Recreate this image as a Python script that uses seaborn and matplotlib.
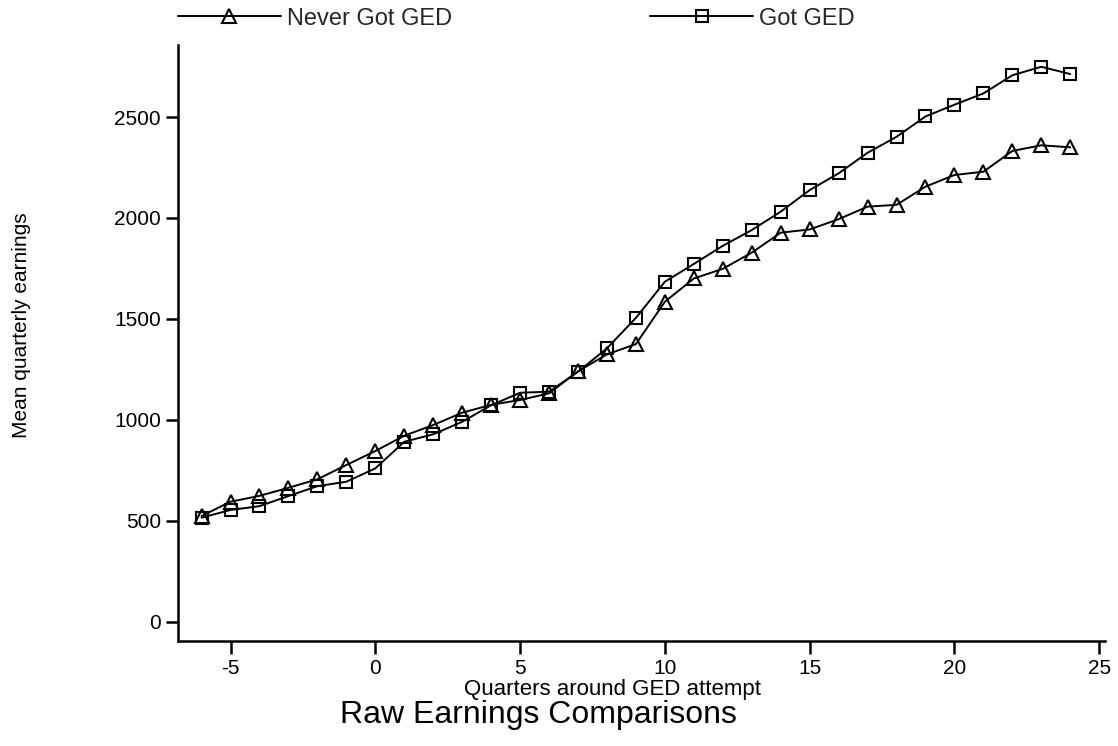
import matplotlib
matplotlib.use("Agg")
import matplotlib.pyplot as plt
import seaborn as sns
import pandas as pd

# Quarters relative to the GED attempt
quarters = list(range(-6, 25))

# Mean quarterly earnings by group
never_got_ged = [523, 594, 623, 663, 705, 776, 845, 921, 974, 1035, 1074, 1098,
                 1131, 1240, 1324, 1375, 1585, 1700, 1748, 1828, 1927, 1943,
                 1994, 2056, 2065, 2155, 2213, 2229, 2332, 2360, 2350]
got_ged = [515, 553, 572, 622, 671, 693, 759, 891, 928, 990, 1072, 1134,
           1139, 1238, 1354, 1505, 1684, 1772, 1862, 1940, 2031, 2138,
           2221, 2323, 2402, 2503, 2561, 2617, 2707, 2749, 2713]

x_ticks = [-5, 0, 5, 10, 15, 20, 25]
y_ticks = [0, 500, 1000, 1500, 2000, 2500]

sns.set_style("ticks")
plt.rcParams["font.family"] = ["Liberation Sans", "DejaVu Sans"]

fig = plt.figure(figsize=(11.18, 7.46), dpi=100)
ax = fig.add_axes([0.1588, 0.1408, 0.8296, 0.7989])

df_never = pd.DataFrame({"quarter": quarters, "earnings": never_got_ged})
df_got = pd.DataFrame({"quarter": quarters, "earnings": got_ged})

line_kw = dict(color="black", linewidth=1.4, markerfacecolor="none",
               markeredgecolor="black", markeredgewidth=1.5)
sns.lineplot(data=df_never, x="quarter", y="earnings", marker="^",
             markersize=10, ax=ax, label="Never Got GED", **line_kw)
sns.lineplot(data=df_got, x="quarter", y="earnings", marker="s",
             markersize=8, ax=ax, label="Got GED", **line_kw)

ax.set_xlim(-6.83, 25.2)
ax.set_ylim(-96, 2857)
ax.set_xticks(x_ticks)
ax.set_yticks(y_ticks)
ax.set_xticklabels([str(t) for t in x_ticks])
ax.set_yticklabels([str(t) for t in y_ticks])

for side in ("top", "right"):
    ax.spines[side].set_visible(False)
for side in ("left", "bottom"):
    ax.spines[side].set_linewidth(1.8)
    ax.spines[side].set_color("black")

ax.tick_params(axis="both", direction="out", length=9, width=1.8,
               colors="black", labelsize=15)
ax.tick_params(axis="y", pad=3)
ax.tick_params(axis="x", pad=4)

ax.set_xlabel("Quarters around GED attempt", fontsize=16, color="black")
ax.set_ylabel("Mean quarterly earnings", fontsize=15, color="black")
ax.xaxis.set_label_coords((612 - 177.5) / 927.5, -0.064)
ax.yaxis.set_label_coords(-0.158, 0.53)

handles, labels = ax.get_legend_handles_labels()
ax.get_legend().remove()
fig.legend(handles, labels, loc="center left", bbox_to_anchor=(0.159, 0.975),
           ncol=2, frameon=False, fontsize=17, handlelength=4.36,
           handletextpad=0.25, columnspacing=8.4, numpoints=1,
           borderaxespad=0, borderpad=0)

fig.text(538 / 1118, 1 - 715 / 746, "Raw Earnings Comparisons",
         ha="center", va="center", fontsize=23, color="black")

fig.savefig("out.png", dpi=100, facecolor="white")
